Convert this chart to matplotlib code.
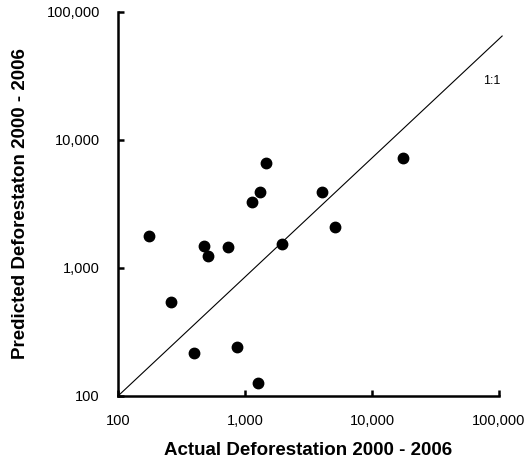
import matplotlib
matplotlib.use("Agg")
import matplotlib.pyplot as plt
from matplotlib.ticker import FixedLocator, FuncFormatter, NullLocator

plt.rcParams['font.family'] = ['Liberation Sans', 'DejaVu Sans']

# ── Data ──────────────────────────────────────────────────────────────────────
actual = [1460, 1320, 1140, 176, 475, 730, 1970, 510, 261, 399, 865, 1275,
          4060, 5140, 17500]
predicted = [6650, 3930, 3260, 1780, 1490, 1470, 1530, 1230, 542, 218, 240,
             126, 3930, 2100, 7200]

tick_values = [100, 1000, 10000, 100000]

# 1:1 reference line as drawn in the source (runs a bit past the axis end)
line_x = [100, 105800]
line_y = [100, 64900]

# ── Figure ────────────────────────────────────────────────────────────────────
fig = plt.figure(figsize=(5.27, 4.61), dpi=100)
ax = fig.add_axes([0.2239, 0.1410, 0.7230, 0.8330])

ax.plot(actual, predicted, 'o', color='black', markersize=7.5, zorder=3)
ax.plot(line_x, line_y, color='black', linewidth=0.8, clip_on=False)
ax.text(88000, 28900, "1:1", fontsize=9, ha='center', va='center')

ax.set_xscale('log')
ax.set_yscale('log')
ax.set_xlim(100, 100000)
ax.set_ylim(100, 100000)

fmt = FuncFormatter(lambda v, pos: f"{v:,.0f}")
for axis in (ax.xaxis, ax.yaxis):
    axis.set_major_locator(FixedLocator(tick_values))
    axis.set_minor_locator(NullLocator())
    axis.set_major_formatter(fmt)

ax.tick_params(direction='in', length=4, width=1.8, labelsize=10.5, pad=13)

for side in ('top', 'right'):
    ax.spines[side].set_visible(False)
for side in ('left', 'bottom'):
    ax.spines[side].set_linewidth(1.8)

ax.set_xlabel("Actual Deforestation 2000 - 2006", fontsize=13.5,
              fontweight='bold', va='center')
ax.xaxis.set_label_coords(0.5, -0.143)
ax.set_ylabel("Predicted Deforestaton 2000 - 2006", fontsize=13.5,
              fontweight='bold', va='center')
ax.yaxis.set_label_coords(-0.257, 0.5)

fig.savefig("out.png", dpi=100)
